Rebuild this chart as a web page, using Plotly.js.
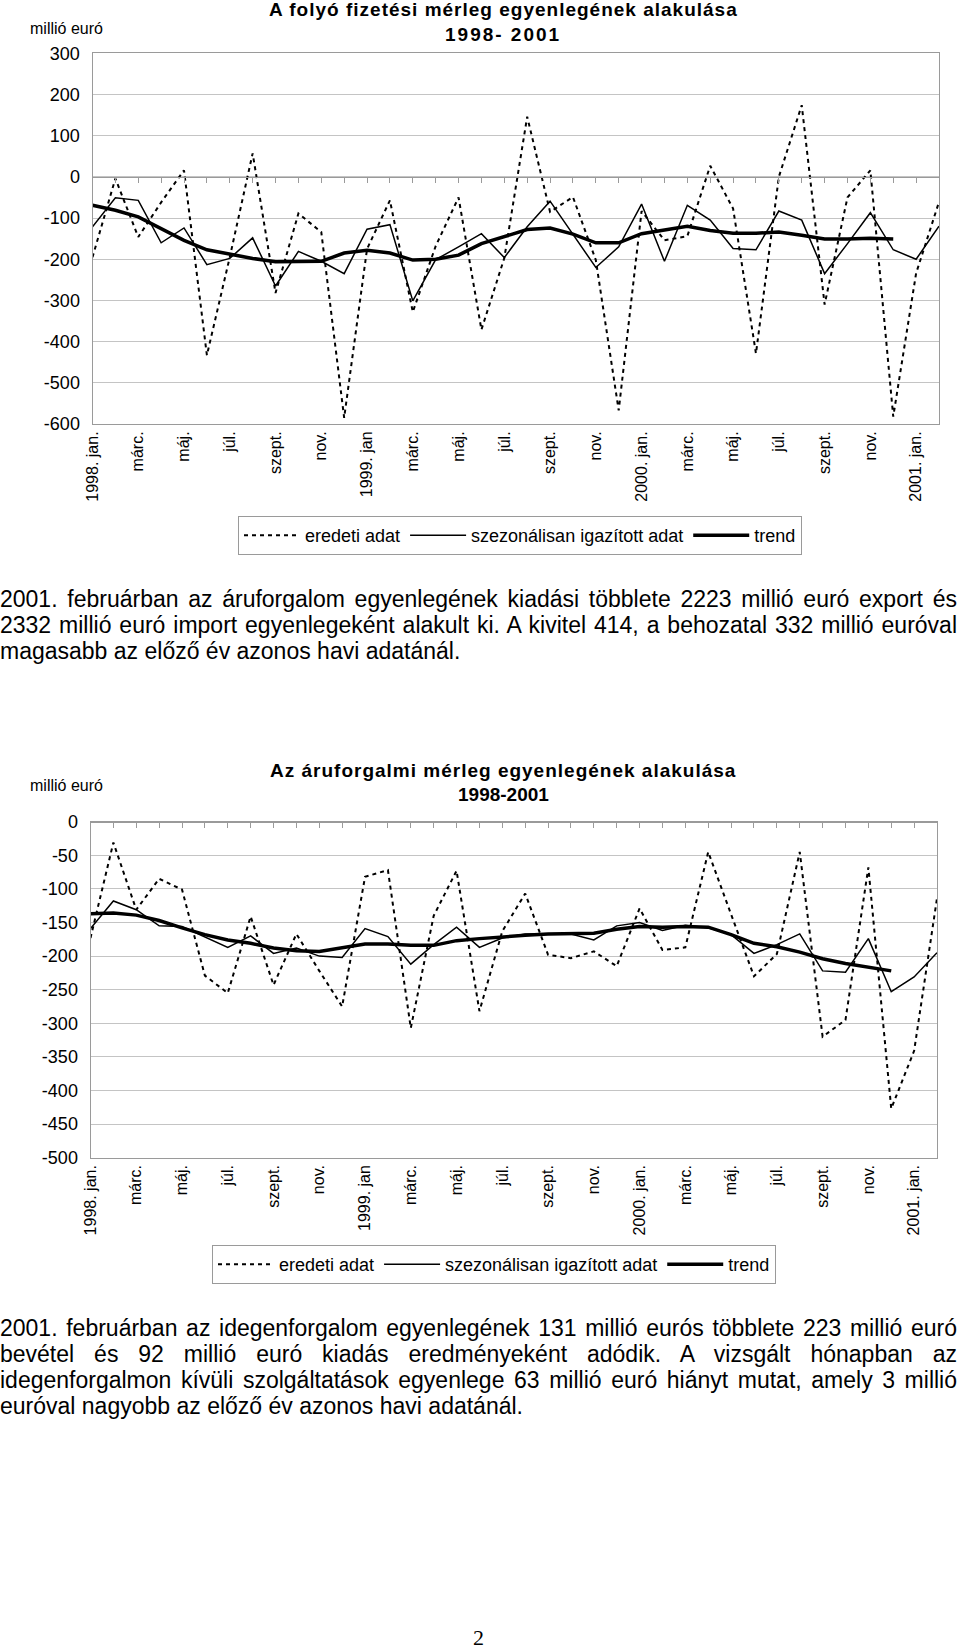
<!DOCTYPE html>
<html>
<head>
<meta charset="utf-8">
<script src="https://cdn.plot.ly/plotly-3.0.1.min.js"></script>
<style>
  body { margin: 0; background: #fff; }
  #wrap { position: relative; width: 960px; height: 1649px; overflow: hidden; background: #fff; }
  #chart { position: absolute; left: 0; top: 0; width: 960px; height: 1649px; }
  .para { position: absolute; left: 0; width: 957px; font-family: 'Liberation Sans', Arial, sans-serif;
          font-size: 23px; line-height: 26px; color: #000; }
  .para div { text-align: justify; text-align-last: justify; }
  .para div.last { text-align: left; text-align-last: left; }
  /* chart titles are set with a slightly expanded letter spacing, as in the original */
  #chart g.annotation[data-index="0"] text,
  #chart g.annotation[data-index="3"] text { letter-spacing: 1px; }
  #chart g.annotation[data-index="1"] text { letter-spacing: 2px; }
</style>
</head>
<body>
<div id="wrap">
  <div id="chart"></div>
  <div class="para" id="p1" style="top:586px;">
    <div>2001. februárban az áruforgalom egyenlegének kiadási többlete 2223 millió euró export és</div>
    <div>2332 millió euró import egyenlegeként alakult ki. A kivitel 414, a behozatal 332 millió euróval</div>
    <div class="last">magasabb az előző év azonos havi adatánál.</div>
  </div>
  <div class="para" id="p2" style="top:1315px;">
    <div>2001. februárban az idegenforgalom egyenlegének 131 millió eurós többlete 223 millió euró</div>
    <div>bevétel és 92 millió euró kiadás eredményeként adódik. A vizsgált hónapban az</div>
    <div>idegenforgalmon kívüli szolgáltatások egyenlege 63 millió euró hiányt mutat, amely 3 millió</div>
    <div class="last">euróval nagyobb az előző év azonos havi adatánál.</div>
  </div>
</div>
<script>
// ---- categories (months 1998 jan - 2001 febr) ----
const months = [
  "1998. jan.","1998. febr.","1998. márc.","1998. ápr.","1998. máj.","1998. jún.",
  "1998. júl.","1998. aug.","1998. szept.","1998. okt.","1998. nov.","1998. dec.",
  "1999. jan.","1999. febr.","1999. márc.","1999. ápr.","1999. máj.","1999. jún.",
  "1999. júl.","1999. aug.","1999. szept.","1999. okt.","1999. nov.","1999. dec.",
  "2000. jan.","2000. febr.","2000. márc.","2000. ápr.","2000. máj.","2000. jún.",
  "2000. júl.","2000. aug.","2000. szept.","2000. okt.","2000. nov.","2000. dec.",
  "2001. jan.","2001. febr."
];
// tick labels shown every second month
const tickLabels = ["1998. jan.","márc.","máj.","júl.","szept.","nov.",
  "1999. jan","márc.","máj.","júl.","szept.","nov.",
  "2000. jan.","márc.","máj.","júl.","szept.","nov.","2001. jan."];
// value-axis tick labels (written with a plain hyphen, as in the original)
const yTicks1 = [300, 200, 100, 0, -100, -200, -300, -400, -500, -600];
const yTicks2 = [0, -50, -100, -150, -200, -250, -300, -350, -400, -450, -500];
const seriesNames = ["eredeti adat", "szezonálisan igazított adat", "trend"];

// ---- Chart 1: folyó fizetési mérleg (millió euró) ----
const cuEredeti = [-195,-4,-146,-62,16,-433,-195,57,-282,-89,-134,-585,
  -175,-57,-328,-168,-50,-371,-197,146,-85,-49,-202,-567,
  -83,-154,-144,27,-77,-429,0,174,-310,-50,16,-582,-234,-61];
const cuSzezon = [-121,-51,-57,-160,-124,-213,-198,-148,-265,-181,-205,-235,
  -127,-116,-301,-201,-170,-138,-196,-121,-59,-138,-220,-170,
  -66,-205,-69,-105,-174,-177,-83,-105,-235,-162,-87,-177,-200,-120];
const cuTrend = [-69,-81,-97,-125,-154,-177,-188,-198,-206,-206,-205,-185,
  -178,-185,-202,-200,-190,-162,-144,-128,-124,-139,-160,-160,
  -138,-130,-120,-130,-137,-137,-134,-142,-151,-151,-149,-151,null,null];

// ---- Chart 2: áruforgalmi mérleg (millió euró) ----
const trEredeti = [-173,-31,-131,-85,-101,-229,-255,-141,-243,-167,-222,-275,
  -82,-72,-307,-140,-73,-282,-163,-107,-198,-203,-193,-215,
  -129,-191,-187,-45,-138,-230,-197,-45,-320,-295,-68,-427,-341,-114];
const trSzezon = [-159,-118,-131,-155,-156,-171,-187,-170,-196,-188,-200,-202,
  -159,-171,-212,-183,-157,-187,-173,-167,-167,-167,-176,-155,
  -150,-162,-154,-158,-168,-196,-183,-167,-222,-224,-174,-253,-231,-195];
const trTrend = [-137,-136,-139,-147,-158,-168,-176,-181,-188,-192,-193,-187,
  -182,-182,-184,-184,-177,-174,-171,-169,-167,-167,-166,-160,
  -156,-157,-156,-157,-168,-181,-186,-194,-204,-211,-217,-222,null,null];

// ---- layout geometry (page pixels) ----
const W = 960, H = 1649;
const FONT = "'Liberation Sans', Arial, sans-serif";
const px = v => v / W, py = v => 1 - v / H;

const xIdx = months.map((m, i) => i);
const tickVals = tickLabels.map((t, i) => i * 2);
const hyph = v => String(v).replace('\u2212', '-');

const dom1x = [px(92.5), px(939)], dom1y = [py(424), py(53.3)];
const dom2x = [px(90.5), px(937)], dom2y = [py(1157.7), py(821.7)];
const range1 = [-600, 300], range2 = [-500, 0];
const zeroPos = (dom, rng) => dom[0] + (0 - rng[0]) / (rng[1] - rng[0]) * (dom[1] - dom[0]);

const lineStyles = [
  {color: '#000', width: 2, dash: '4px,4px'},
  {color: '#000', width: 1.5},
  {color: '#000', width: 3.5}
];

function series(ys, k, xa, ya, leg) {
  return {x: xIdx, y: ys, xaxis: xa, yaxis: ya, type: 'scatter', mode: 'lines',
          name: seriesNames[k], line: lineStyles[k], legend: leg, hoverinfo: 'skip',
          connectgaps: false};
}

const data = [
  series(cuEredeti, 0, 'x', 'y', 'legend'),
  series(cuSzezon, 1, 'x', 'y', 'legend'),
  series(cuTrend, 2, 'x', 'y', 'legend'),
  series(trEredeti, 0, 'x2', 'y2', 'legend2'),
  series(trSzezon, 1, 'x2', 'y2', 'legend2'),
  series(trTrend, 2, 'x2', 'y2', 'legend2'),
  // helpers so that the category-axis lines (crossing at 0) are drawn
  {x: [null], y: [null], xaxis: 'x3', yaxis: 'y', showlegend: false, hoverinfo: 'skip'},
  {x: [null], y: [null], xaxis: 'x4', yaxis: 'y2', showlegend: false, hoverinfo: 'skip'}
];

const gridC = '#c4c4c4', lineC = '#9a9a9a';
function catAxis(dom, anchor) {
  return {domain: dom, anchor: anchor, range: [0, 37], tickmode: 'array',
    tickvals: tickVals, ticktext: tickLabels, tickangle: -90,
    tickfont: {family: FONT, size: 16, color: '#000'}, showgrid: false, zeroline: false,
    showline: true, mirror: true, linecolor: lineC, linewidth: 1, ticks: '', fixedrange: true};
}
function valAxis(dom, rng, ticks, anchor) {
  return {domain: dom, anchor: anchor, range: rng, tickmode: 'array',
    tickvals: ticks, ticktext: ticks.map(hyph),
    tickfont: {family: FONT, size: 18, color: '#000'}, gridcolor: gridC, gridwidth: 1,
    showline: true, mirror: true, linecolor: lineC, linewidth: 1, zeroline: false,
    ticks: '', ticklabelstandoff: 8, fixedrange: true};
}
function crossAxis(over, pos) {
  return {overlaying: over, anchor: 'free', position: pos, range: [0, 37],
    tickmode: 'linear', tick0: 0, dtick: 1, ticks: 'outside', ticklen: 5, tickcolor: lineC,
    showticklabels: false, showline: true, linecolor: lineC, linewidth: 1,
    showgrid: false, zeroline: false, fixedrange: true};
}

const legendBase = {orientation: 'h', xanchor: 'center', yanchor: 'top',
  bordercolor: '#9a9a9a', borderwidth: 1, bgcolor: '#fff', itemwidth: 56,
  font: {family: FONT, size: 18, color: '#000'}, traceorder: 'normal'};

const titleX = px(503);
const layout = {
  width: W, height: H, margin: {l: 0, r: 0, t: 0, b: 0},
  paper_bgcolor: '#fff', plot_bgcolor: '#fff', showlegend: true,
  font: {family: FONT, color: '#000'},
  xaxis: catAxis(dom1x, 'y'),
  yaxis: valAxis(dom1y, range1, yTicks1, 'x'),
  xaxis2: catAxis(dom2x, 'y2'),
  yaxis2: valAxis(dom2y, range2, yTicks2, 'x2'),
  xaxis3: crossAxis('x', zeroPos(dom1y, range1)),
  xaxis4: crossAxis('x2', zeroPos(dom2y, range2)),
  legend: Object.assign({}, legendBase, {x: px(520), y: py(516)}),
  legend2: Object.assign({}, legendBase, {x: px(494), y: py(1245)}),
  annotations: [
    {xref: 'paper', yref: 'paper', x: titleX, y: py(10), xanchor: 'center', yanchor: 'middle',
     showarrow: false, text: '<b>A folyó fizetési mérleg egyenlegének alakulása</b>',
     font: {family: FONT, size: 19, color: '#000'}},
    {xref: 'paper', yref: 'paper', x: titleX, y: py(34), xanchor: 'center', yanchor: 'middle',
     showarrow: false, text: '<b>1998- 2001</b>', font: {family: FONT, size: 19, color: '#000'}},
    {xref: 'paper', yref: 'paper', x: px(28), y: py(28), xanchor: 'left', yanchor: 'middle',
     showarrow: false, text: 'millió euró', font: {family: FONT, size: 16, color: '#000'}},
    {xref: 'paper', yref: 'paper', x: titleX, y: py(770), xanchor: 'center', yanchor: 'middle',
     showarrow: false, text: '<b>Az áruforgalmi mérleg egyenlegének alakulása</b>',
     font: {family: FONT, size: 19, color: '#000'}},
    {xref: 'paper', yref: 'paper', x: titleX, y: py(794), xanchor: 'center', yanchor: 'middle',
     showarrow: false, text: '<b>1998-2001</b>', font: {family: FONT, size: 19, color: '#000'}},
    {xref: 'paper', yref: 'paper', x: px(28), y: py(785), xanchor: 'left', yanchor: 'middle',
     showarrow: false, text: 'millió euró', font: {family: FONT, size: 16, color: '#000'}},
    {xref: 'paper', yref: 'paper', x: px(478), y: py(1637), xanchor: 'center', yanchor: 'middle',
     showarrow: false, text: '2', font: {family: "'Liberation Serif', 'Times New Roman', serif", size: 22, color: '#000'}}
  ]
};

Plotly.newPlot('chart', data, layout, {displayModeBar: false, staticPlot: true});
</script>
</body>
</html>
